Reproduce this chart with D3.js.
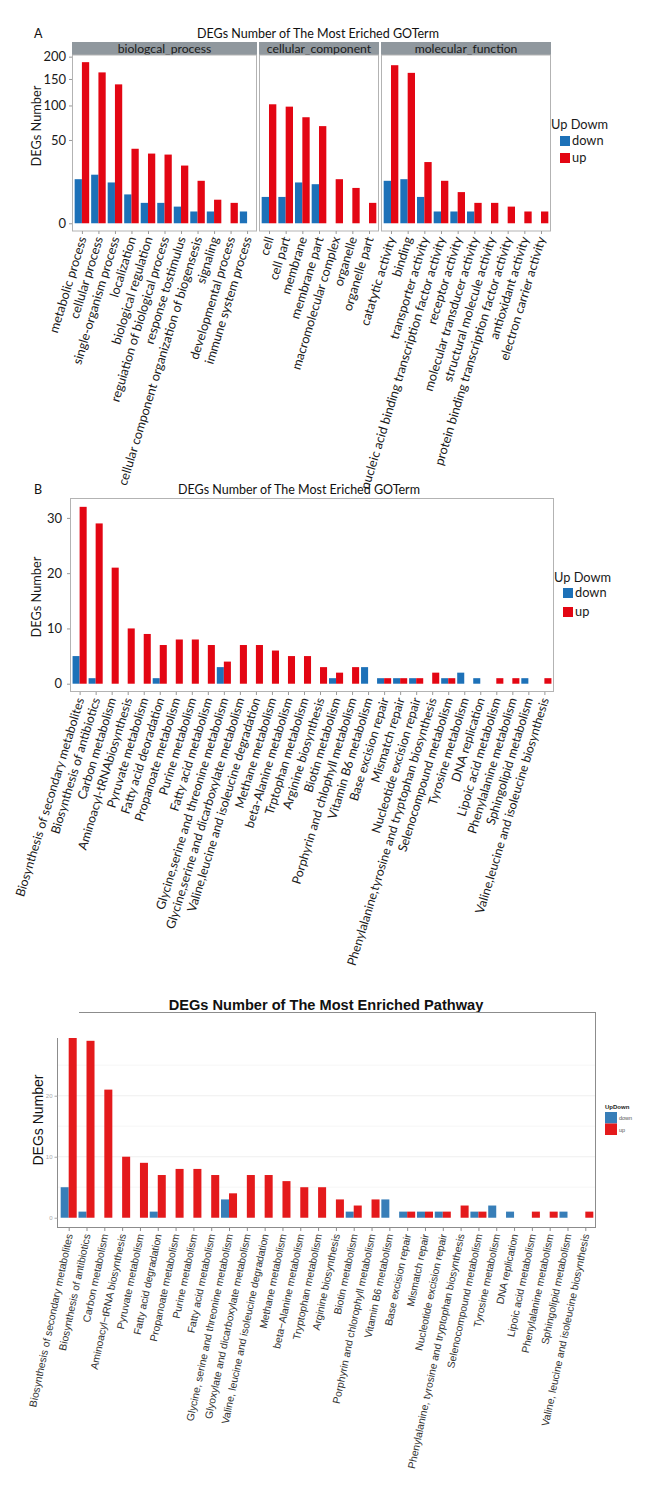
<!DOCTYPE html>
<html><head><meta charset="utf-8">
<script src="https://cdn.jsdelivr.net/npm/d3@7"></script>
<style>body{margin:0;background:#fff}</style>
</head><body><svg id="c" width="660" height="1510" xmlns="http://www.w3.org/2000/svg"></svg>
<script>
// ---------------- DATA ----------------
const bpTerms = ["metabolic process","cellular process","single-organism process","localization","biological regulation","reguiation of biological process","response tostimulus","cellular component organization of biogensesis","signaling","developmental process","immune system process"];
const bpDown = [14,17,12,6,3,3,2,1,1,0,1];
const bpUp   = [187,164,139,40,35,34,24,13,4,3,0];

const ccTerms = ["cell","cell part","membrane","membrane part","macromolecular complex","organelle","organelle part"];
const ccDown = [5,5,12,11,0,0,0];
const ccUp   = [102,98,81,68,14,9,3];

const mfTerms = ["catatytic activity","binding","transporter activity","nucleic acid binding transcription factor activity","receptor activity","molecular transducer activity","structural molecule activity","protein binding transcription factor activity","antioxidant activity","electron carrier activity"];
const mfDown = [13,14,5,1,1,1,0,0,0,0];
const mfUp   = [180,163,27,13,7,3,3,2,1,1];

const facetNames = ["biologcal_process","cellular_component","molecular_function"];
const yTicksA = [0,50,100,150,200];

const pathTermsB = ["Biosynthesis of secondary metabolites","Biosynthesis of antibiotics","Carbon metabolism","Aminoacyl-tRNAbiosynthesis","Pyruvate metabolism","Fatty acid deoradation","Propanoate metabolism","Purine metabolism","Fatty acid metabolism","Glycine,serine and threonine metabolism","Glycine,serine and dicarboxylate metabolism","Valine,leucine and isoleucine degradation","Methane metabolism","beta-Alanine metabolism","Trptophan metabolism","Arginine biosynthesis","Biotin metabolism","Porphyrin and chlophyll metabolism","Vitamin B6 metabolism","Base excision repair","Mismatch repair","Nucleotide excision repair","Phenylalanine,tyrosine and tryptophan biosynthesis","Selenocompound metabolism","Tyrosine metabolism","DNA replication","Lipoic acid metabolism","Phenylalanine metabolism","Sphingolipid metabolism","Valine,leucine and isoleucine biosynthesis"];
const pathTermsC = ["Biosynthesis of secondary metabolites","Biosynthesis of antibiotics","Carbon metabolism","Aminoacyl\u2212tRNA biosynthesis","Pyruvate metabolism","Fatty acid degradation","Propanoate metabolism","Purine metabolism","Fatty acid metabolism","Glycine, serine and threonine metabolism","Glyoxylate and dicarboxylate metabolism","Valine, leucine and isoleucine degradation","Methane metabolism","beta\u2212Alanine metabolism","Tryptophan metabolism","Arginine biosynthesis","Biotin metabolism","Porphyrin and chlorophyll metabolism","Vitamin B6 metabolism","Base excision repair","Mismatch repair","Nucleotide excision repair","Phenylalanine, tyrosine and tryptophan biosynthesis","Selenocompound metabolism","Tyrosine metabolism","DNA replication","Lipoic acid metabolism","Phenylalanine metabolism","Sphingolipid metabolism","Valine, leucine and isoleucine biosynthesis"];
const pathDown = [5,1,0,0,0,1,0,0,0,3,0,0,0,0,0,0,1,0,3,1,1,1,0,1,2,1,0,0,1,0];
const pathUp   = [32,29,21,10,9,7,8,8,7,4,7,7,6,5,5,3,2,3,0,1,1,1,2,1,0,0,1,1,0,1];
const yTicksB = [0,10,20,30];
const yTicksC = [0,10,20];
const gridC = [5,10,15,20,25];

// ---------------- STYLE ----------------
const svg = d3.select("#c");
const FA = "Lato, 'Open Sans', sans-serif";
const FC = "'Liberation Sans', Arial, sans-serif";
const BLUE = "#1d71b8", RED = "#e30613";
const BLUE_C = "#377eb8", RED_C = "#e41a1c";
const BAR_FRAC = 0.44;

function bars(g, x, y, terms, down, up, w, cb, cr){
  g.selectAll(null).data(terms).enter().append("rect")
    .attr("x", (d)=>x(d)-w).attr("width", w)
    .attr("y", (d,i)=>y(Math.max(down[i],0))).attr("height",(d,i)=>y(0)-y(down[i]))
    .attr("fill", cb);
  g.selectAll(null).data(terms).enter().append("rect")
    .attr("x", (d)=>x(d)).attr("width", w)
    .attr("y", (d,i)=>y(up[i])).attr("height",(d,i)=>y(0)-y(up[i]))
    .attr("fill", cr);
}

function xAxis(g, x, yPos, angle, font, size, color, tickColor){
  const ax = g.append("g").attr("transform",`translate(0,${yPos})`)
    .call(d3.axisBottom(x).tickSize(3).tickSizeOuter(0));
  ax.select(".domain").remove();
  ax.selectAll("line").attr("stroke", tickColor);
  ax.selectAll("text")
    .attr("x",0).attr("y",0).attr("dy","0.35em")
    .attr("transform",`translate(0,6) rotate(${-angle})`)
    .attr("text-anchor","end")
    .attr("font-family",font).attr("font-size",size).attr("fill",color);
}

// ---------------- PANEL A ----------------
svg.append("text").attr("x",34).attr("y",38).text("A")
  .attr("font-family",FA).attr("font-size",12.5).attr("fill","#111");
svg.append("text").attr("x",318).attr("y",38).attr("text-anchor","middle")
  .text("DEGs Number of The Most Eriched GOTerm")
  .attr("font-family",FA).attr("font-size",12.5).attr("fill","#111");

const aTop = 55, aBot = 231;
const yA = d3.scaleSqrt().domain([-0.43, 204]).range([aBot, aTop]);
const facets = [
  {name:facetNames[0], terms:bpTerms, down:bpDown, up:bpUp, x0:72,  x1:257},
  {name:facetNames[1], terms:ccTerms, down:ccDown, up:ccUp, x0:259, x1:379},
  {name:facetNames[2], terms:mfTerms, down:mfDown, up:mfUp, x0:381, x1:551}
];
facets.forEach(f=>{
  const g = svg.append("g");
  const x = d3.scalePoint().domain(f.terms).range([f.x0,f.x1]).padding(0.6);
  const w = x.step()*BAR_FRAC;
  g.append("rect").attr("x",f.x0).attr("y",42).attr("width",f.x1-f.x0).attr("height",13).attr("fill","#90989e");
  g.append("text").attr("x",(f.x0+f.x1)/2).attr("y",52.5).attr("text-anchor","middle").text(f.name)
    .attr("font-family",FA).attr("font-size",12.2).attr("fill","#1a1a1a");
  bars(g, x, yA, f.terms, f.down, f.up, w, BLUE, RED);
  g.append("rect").attr("x",f.x0+0.5).attr("y",aTop).attr("width",f.x1-f.x0-1).attr("height",aBot-aTop)
    .attr("fill","none").attr("stroke","#b3b3b3").attr("stroke-width",1);
  xAxis(g, x, aBot, 73, FA, 12.7, "#1a1a1a", "#999");
});
{
  const ay = svg.append("g").attr("transform","translate(72,0)")
    .call(d3.axisLeft(yA).tickValues(yTicksA).tickSize(3).tickPadding(3));
  ay.select(".domain").remove();
  ay.selectAll("line").attr("stroke","#999");
  ay.selectAll("text").attr("font-family",FA).attr("font-size",13).attr("fill","#1a1a1a");
  svg.append("text").attr("transform","translate(41,126) rotate(-90)").attr("text-anchor","middle")
    .text("DEGs Number").attr("font-family",FA).attr("font-size",12.8).attr("fill","#1a1a1a");
}
function legendA(x, yTitle, yBlue, yRed){
  const g = svg.append("g");
  g.append("text").attr("x",x).attr("y",yTitle).text("Up Dowm").attr("font-family",FA).attr("font-size",12.8).attr("fill","#1a1a1a");
  g.append("rect").attr("x",x+9).attr("y",yBlue).attr("width",10).attr("height",10).attr("fill",BLUE);
  g.append("rect").attr("x",x+9).attr("y",yRed).attr("width",10).attr("height",10).attr("fill",RED);
  g.append("text").attr("x",x+21).attr("y",yBlue+8.5).text("down").attr("font-family",FA).attr("font-size",12.8).attr("fill","#1a1a1a");
  g.append("text").attr("x",x+21).attr("y",yRed+8.5).text("up").attr("font-family",FA).attr("font-size",12.8).attr("fill","#1a1a1a");
}
legendA(551, 129, 136, 153);

// ---------------- PANEL B ----------------
svg.append("text").attr("x",34).attr("y",494).text("B")
  .attr("font-family",FA).attr("font-size",12.5).attr("fill","#111");
svg.append("text").attr("x",299).attr("y",494).attr("text-anchor","middle")
  .text("DEGs Number of The Most Eriched GOTerm")
  .attr("font-family",FA).attr("font-size",12.5).attr("fill","#111");
{
  const x0=70, x1=554, yT=498, yB=692;
  const g = svg.append("g");
  const x = d3.scalePoint().domain(pathTermsB).range([x0,x1]).padding(0.6);
  const y = d3.scaleLinear().domain([-1.5,33.6]).range([yB,yT]);
  const w = x.step()*BAR_FRAC;
  bars(g, x, y, pathTermsB, pathDown, pathUp, w, BLUE, RED);
  g.append("rect").attr("x",x0+0.5).attr("y",yT+0.5).attr("width",x1-x0-1).attr("height",yB-yT-1)
    .attr("fill","none").attr("stroke","#b3b3b3");
  xAxis(g, x, yB, 73, FA, 12.4, "#1a1a1a", "#999");
  const ay = g.append("g").attr("transform",`translate(${x0},0)`)
    .call(d3.axisLeft(y).tickValues(yTicksB).tickSize(3).tickPadding(5));
  ay.select(".domain").remove();
  ay.selectAll("line").attr("stroke","#999");
  ay.selectAll("text").attr("font-family",FA).attr("font-size",13).attr("fill","#1a1a1a");
  svg.append("text").attr("transform","translate(41,597) rotate(-90)").attr("text-anchor","middle")
    .text("DEGs Number").attr("font-family",FA).attr("font-size",12.8).attr("fill","#1a1a1a");
  legendA(554, 582, 588, 607);
}

// ---------------- PANEL C ----------------
svg.append("text").attr("x",326).attr("y",1010).attr("text-anchor","middle")
  .text("DEGs Number of The Most Enriched Pathway")
  .attr("font-family",FC).attr("font-weight","bold").attr("font-size",14.6).attr("fill","#111");
{
  const x0=58, x1=596, yT=1038, yB=1227;
  const g = svg.append("g");
  const x = d3.scalePoint().domain(pathTermsC).range([x0,x1]).padding(0.6);
  const y = d3.scaleLinear().domain([-1.52,29.46]).range([yB,yT]);
  const w = x.step()*0.45;
  gridC.forEach(v=>{
    g.append("line").attr("x1",x0).attr("x2",x1).attr("y1",y(v)).attr("y2",y(v))
      .attr("stroke", v%10===0 ? "#ececec" : "#f5f5f5").attr("stroke-width",0.8);
  });
  g.append("clipPath").attr("id","clipC").append("rect").attr("x",x0).attr("y",yT).attr("width",x1-x0).attr("height",yB-yT);
  const gb = g.append("g").attr("clip-path","url(#clipC)");
  bars(gb, x, y, pathTermsC, pathDown, pathUp, w, BLUE_C, RED_C);
  // frame
  g.append("line").attr("x1",79).attr("x2",x1).attr("y1",1012.5).attr("y2",1012.5).attr("stroke","#8c8c8c");
  g.append("line").attr("x1",x1-0.5).attr("x2",x1-0.5).attr("y1",1012).attr("y2",yB).attr("stroke","#8c8c8c");
  g.append("line").attr("x1",x0).attr("x2",x1).attr("y1",yB+0.5).attr("y2",yB+0.5).attr("stroke","#8c8c8c");
  g.append("line").attr("x1",x0-0.5).attr("x2",x0-0.5).attr("y1",yT).attr("y2",yB+1).attr("stroke","#8c8c8c");
  xAxis(g, x, yB+1, 78, FC, 10.4, "#333", "#8c8c8c");
  const ay = g.append("g").attr("transform",`translate(${x0-0.5},0)`)
    .call(d3.axisLeft(y).tickValues(yTicksC).tickSize(3).tickPadding(2));
  ay.select(".domain").remove();
  ay.selectAll("line").attr("stroke","#aaa");
  ay.selectAll("text").attr("font-family",FC).attr("font-size",6).attr("fill","#aaa");
  svg.append("text").attr("transform","translate(43,1120) rotate(-90)").attr("text-anchor","middle")
    .text("DEGs Number").attr("font-family",FC).attr("font-size",14).attr("fill","#111");
  const lg = svg.append("g");
  lg.append("text").attr("x",605).attr("y",1109).text("UpDown").attr("font-family",FC).attr("font-weight","bold").attr("font-size",6).attr("fill","#222");
  lg.append("rect").attr("x",605).attr("y",1112).attr("width",12).attr("height",11.5).attr("fill",BLUE_C);
  lg.append("rect").attr("x",605).attr("y",1123.5).attr("width",12).attr("height",11.5).attr("fill",RED_C);
  lg.append("text").attr("x",619).attr("y",1120).text("down").attr("font-family",FC).attr("font-size",5.5).attr("fill","#555");
  lg.append("text").attr("x",619).attr("y",1131.5).text("up").attr("font-family",FC).attr("font-size",5.5).attr("fill","#555");
}
</script></body></html>
